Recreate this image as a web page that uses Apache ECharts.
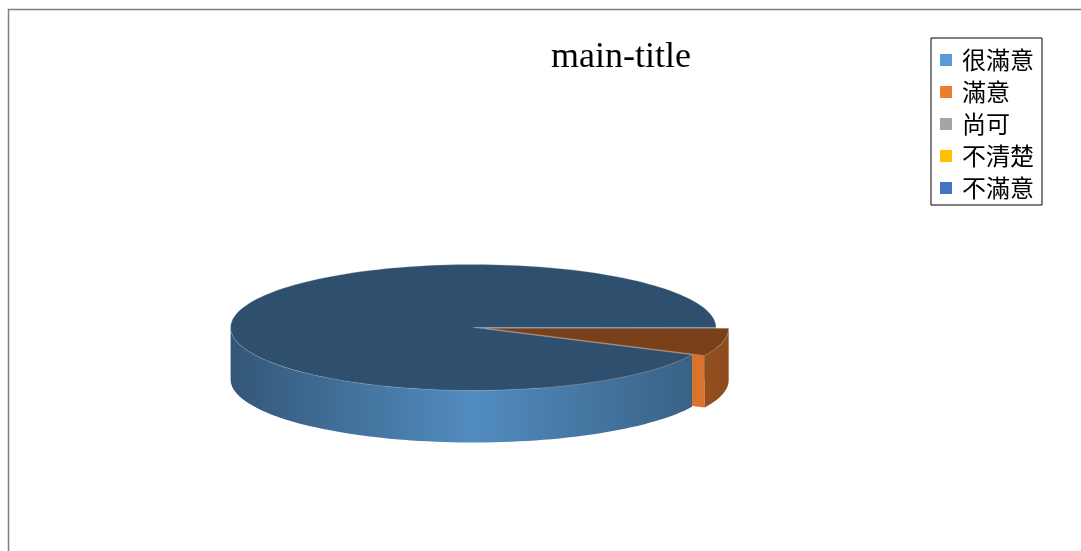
<!DOCTYPE html>
<html>
<head>
<meta charset="utf-8">
<title>main-title</title>
<script src="https://cdn.jsdelivr.net/npm/echarts@6/dist/echarts.min.js"></script>
<style>
html, body { margin: 0; padding: 0; background: #fff; }
#main { width: 1081px; height: 551px; }
</style>
</head>
<body>
<div id="main"></div>
<script>
// 類別與數值
var categories = ['很滿意', '滿意', '尚可', '不清楚', '不滿意'];
var counts = [13, 1, 0, 0, 0];
var colors = ['#5B9BD5', '#ED7D31', '#A5A5A5', '#FFC000', '#4472C4'];
var explode = [0, 13, 0, 0, 0];

var chart = echarts.init(document.getElementById('main'));

// 3D 餅圖的外形
var cx = 473.3, cy = 327.5, rx = 242.7, ry = 63, depth = 52;
var startDeg = 25.7;
var total = counts.reduce(function (a, b) { return a + b; }, 0);

function shade(hex, f) {
    var n = parseInt(hex.slice(1), 16);
    var r = Math.min(255, Math.round(((n >> 16) & 255) * f));
    var g = Math.min(255, Math.round(((n >> 8) & 255) * f));
    var b = Math.min(255, Math.round((n & 255) * f));
    return 'rgb(' + r + ',' + g + ',' + b + ')';
}

function pt(t, dx, dy, down) {
    var a = t * Math.PI / 180;
    return [cx + dx + rx * Math.cos(a), cy + dy + ry * Math.sin(a) + (down ? depth : 0)];
}

function arcPts(a, b, dx, dy, down) {
    var pts = [];
    var n = Math.max(2, Math.ceil(Math.abs(b - a) / 2));
    for (var i = 0; i <= n; i++) {
        pts.push(pt(a + (b - a) * i / n, dx, dy, down));
    }
    return pts;
}

function sliceAngles(idx) {
    var acc = 0;
    for (var i = 0; i < idx; i++) acc += counts[i];
    var a = startDeg + acc / total * 360;
    return [a, a + counts[idx] / total * 360];
}

function renderSlice(idx) {
    return function (params, api) {
        var children = [];
        if (!counts[idx]) return { type: 'group', children: children };
        var ang = sliceAngles(idx);
        var a = ang[0], b = ang[1];
        var mid = (a + b) / 2 * Math.PI / 180;
        var dx = explode[idx] * Math.cos(mid);
        var dy = explode[idx] * Math.sin(mid) * ry / rx;
        var base = colors[idx];
        var c0 = [cx + dx, cy + dy];
        var c1 = [cx + dx, cy + dy + depth];

        // 切面
        function wall(t) {
            children.push({
                type: 'polygon',
                z2: 1,
                shape: { points: [c0, pt(t, dx, dy, false), pt(t, dx, dy, true), c1] },
                style: { fill: shade(base, 0.92) }
            });
        }
        if (Math.sin((a - 90) * Math.PI / 180) > 0) wall(a);
        if (Math.cos(b * Math.PI / 180) > 0) wall(b);

        // 前方側面
        var ranges = [[-360, -180], [0, 180], [360, 540]];
        ranges.forEach(function (r) {
            var lo = Math.max(a, r[0]), hi = Math.min(b, r[1]);
            if (hi <= lo) return;
            var top = arcPts(lo, hi, dx, dy, false);
            var bottom = arcPts(hi, lo, dx, dy, true);
            children.push({
                type: 'polygon',
                z2: 2,
                shape: { points: top.concat(bottom) },
                style: {
                    fill: {
                        type: 'linear', global: true,
                        x: cx + dx - rx, y: 0, x2: cx + dx + rx, y2: 0,
                        colorStops: [
                            { offset: 0, color: shade(base, 0.56) },
                            { offset: 0.5, color: shade(base, 0.9) },
                            { offset: 1, color: shade(base, 0.6) }
                        ]
                    }
                }
            });
        });

        // 頂面
        children.push({
            type: 'polygon',
            z2: 3,
            shape: { points: [c0].concat(arcPts(a, b, dx, dy, false)) },
            style: { fill: shade(base, 0.51), stroke: 'rgba(190,200,210,0.35)', lineWidth: 0.8 }
        });
        return { type: 'group', children: children };
    };
}

var option = {
    animation: false,
    title: {
        text: 'main-title',
        left: 551,
        top: 40,
        padding: 0,
        textStyle: { fontFamily: 'Liberation Serif', fontSize: 36, fontWeight: 'normal', color: '#000' }
    },
    legend: {
        orient: 'vertical',
        left: 931,
        top: 38,
        padding: [10, 8, 5, 9],
        itemWidth: 12,
        itemHeight: 12,
        itemGap: 8,
        icon: 'rect',
        borderColor: '#000',
        borderWidth: 1,
        textStyle: {
            fontFamily: 'Noto Sans CJK TC',
            fontSize: 24,
            lineHeight: 24,
            color: '#000',
            padding: [0, 0, 0, 5]
        },
        data: categories
    },
    graphic: [{
        type: 'rect',
        silent: true,
        shape: { x: 8.5, y: 9.5, width: 1200, height: 700 },
        style: { fill: 'none', stroke: '#7f7f7f', lineWidth: 1.5 }
    }],
    series: categories.map(function (name, i) {
        return {
            type: 'custom',
            name: name,
            coordinateSystem: 'none',
            silent: true,
            itemStyle: { color: colors[i] },
            data: [[counts[i]]],
            renderItem: renderSlice(i)
        };
    })
};

chart.setOption(option);
</script>
</body>
</html>
